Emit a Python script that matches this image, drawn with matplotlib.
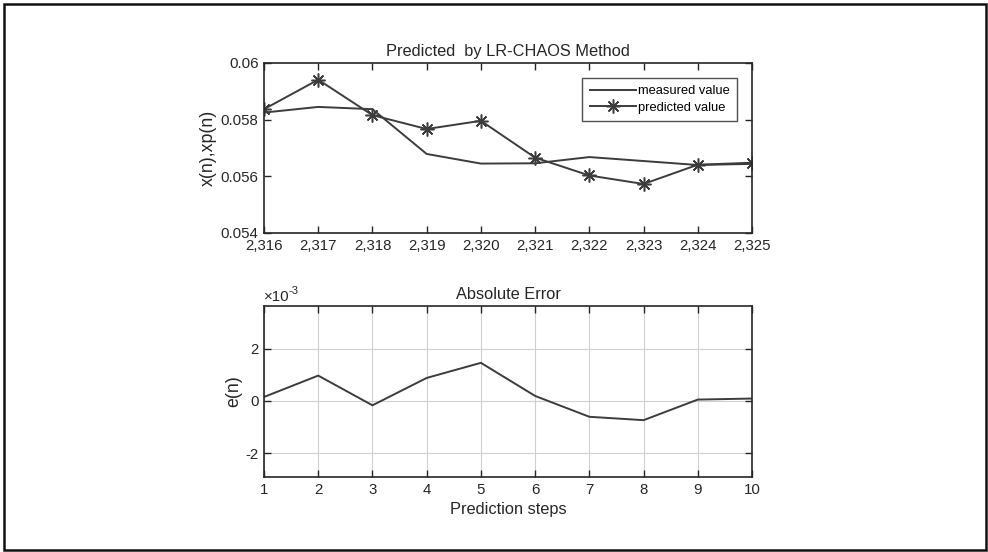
import numpy as np
import matplotlib.pyplot as plt
from matplotlib.patches import Rectangle

plt.rcParams['font.family'] = ['Liberation Sans', 'DejaVu Sans']
plt.rcParams['axes.unicode_minus'] = False

# samples 2316..2325
sample_idx = [2316, 2317, 2318, 2319, 2320, 2321, 2322, 2323, 2324, 2325]
sample_labels = ['2,316', '2,317', '2,318', '2,319', '2,320',
                 '2,321', '2,322', '2,323', '2,324', '2,325']
measured = [0.05825, 0.05845, 0.05837, 0.05679, 0.05645,
            0.05646, 0.05668, 0.05654, 0.05640, 0.05644]
predicted = [0.05837, 0.05941, 0.05816, 0.05767, 0.05796,
             0.05666, 0.05603, 0.05573, 0.05641, 0.05648]

steps = [1, 2, 3, 4, 5, 6, 7, 8, 9, 10]
abs_err = [0.15, 0.97, -0.17, 0.88, 1.46, 0.19, -0.61, -0.74, 0.05, 0.09]  # x 1e-3

W, H = 988, 552
fig = plt.figure(figsize=(W / 100, H / 100), dpi=100)
fig.patch.set_facecolor('white')

line_col = '#3c3c3c'
ax_col = '#262626'
star = (8, 2, 0)  # asterisk marker

def setup(ax):
    ax.tick_params(direction='in', top=True, right=True, length=5,
                   width=1.0, colors=ax_col, labelsize=10.8, pad=4)
    for s in ax.spines.values():
        s.set_linewidth(1.2)
        s.set_color(ax_col)

# top panel
ax1 = fig.add_axes([264 / W, 1 - 233 / H, (752 - 264) / W, (233 - 63) / H])
ax1.plot(sample_idx, measured, '-', color=line_col, lw=1.4, label='measured value')
ax1.plot(sample_idx, predicted, '-', marker=star, color=line_col, lw=1.4, ms=10,
         mew=1.1, label='predicted value')
ax1.set_xlim(2316, 2325)
ax1.set_ylim(0.054, 0.06)
ax1.set_xticks(sample_idx)
ax1.set_xticklabels(sample_labels)
ax1.set_yticks([0.054, 0.056, 0.058, 0.06])
ax1.set_yticklabels(['0.054', '0.056', '0.058', '0.06'])
setup(ax1)
ax1.set_ylabel('x(n),xp(n)', fontsize=12.8, color=ax_col, labelpad=3)
ax1.set_title('Predicted  by LR-CHAOS Method', fontsize=11.8, color=ax_col, pad=5)
leg = ax1.legend(loc='upper right', bbox_to_anchor=(0.969, 0.912), fontsize=9.3,
                 frameon=True, fancybox=False, edgecolor=ax_col,
                 handlelength=3.6, handletextpad=0.15, borderpad=0.55,
                 labelspacing=0.35, borderaxespad=0)
leg.get_frame().set_linewidth(1.0)

# bottom panel
ax2 = fig.add_axes([264 / W, 1 - 477 / H, (752 - 264) / W, (477 - 306) / H])
ax2.plot(steps, abs_err, '-', color=line_col, lw=1.4)
ax2.set_xlim(1, 10)
ax2.set_ylim(-2.92, 3.64)
ax2.set_xticks(steps)
ax2.set_yticks([-2, 0, 2])
ax2.grid(True, color='#d0d0d0', lw=0.8)
setup(ax2)
ax2.set_ylabel('e(n)', fontsize=12.8, color=ax_col, labelpad=2)
ax2.set_xlabel('Prediction steps', fontsize=11.8, color=ax_col, labelpad=4)
ax2.set_title('Absolute Error', fontsize=11.8, color=ax_col, pad=5)
# exponent label above the y axis
ax2.text(0.0, 1.01, '\u00d710', transform=ax2.transAxes,
         fontsize=10.8, color=ax_col, ha='left', va='bottom')
ax2.annotate('-3', xy=(0.0, 1.01), xycoords='axes fraction',
             xytext=(17.5, 6), textcoords='offset points',
             fontsize=8, color=ax_col, ha='left', va='bottom')

# outer frame
fig.patches.append(Rectangle((4 / W, 2 / H), (986 - 4) / W, (548 - 2) / H,
                             transform=fig.transFigure, fill=False,
                             edgecolor='#111111', lw=1.8))

fig.savefig('out.png', dpi=100, facecolor='white')
